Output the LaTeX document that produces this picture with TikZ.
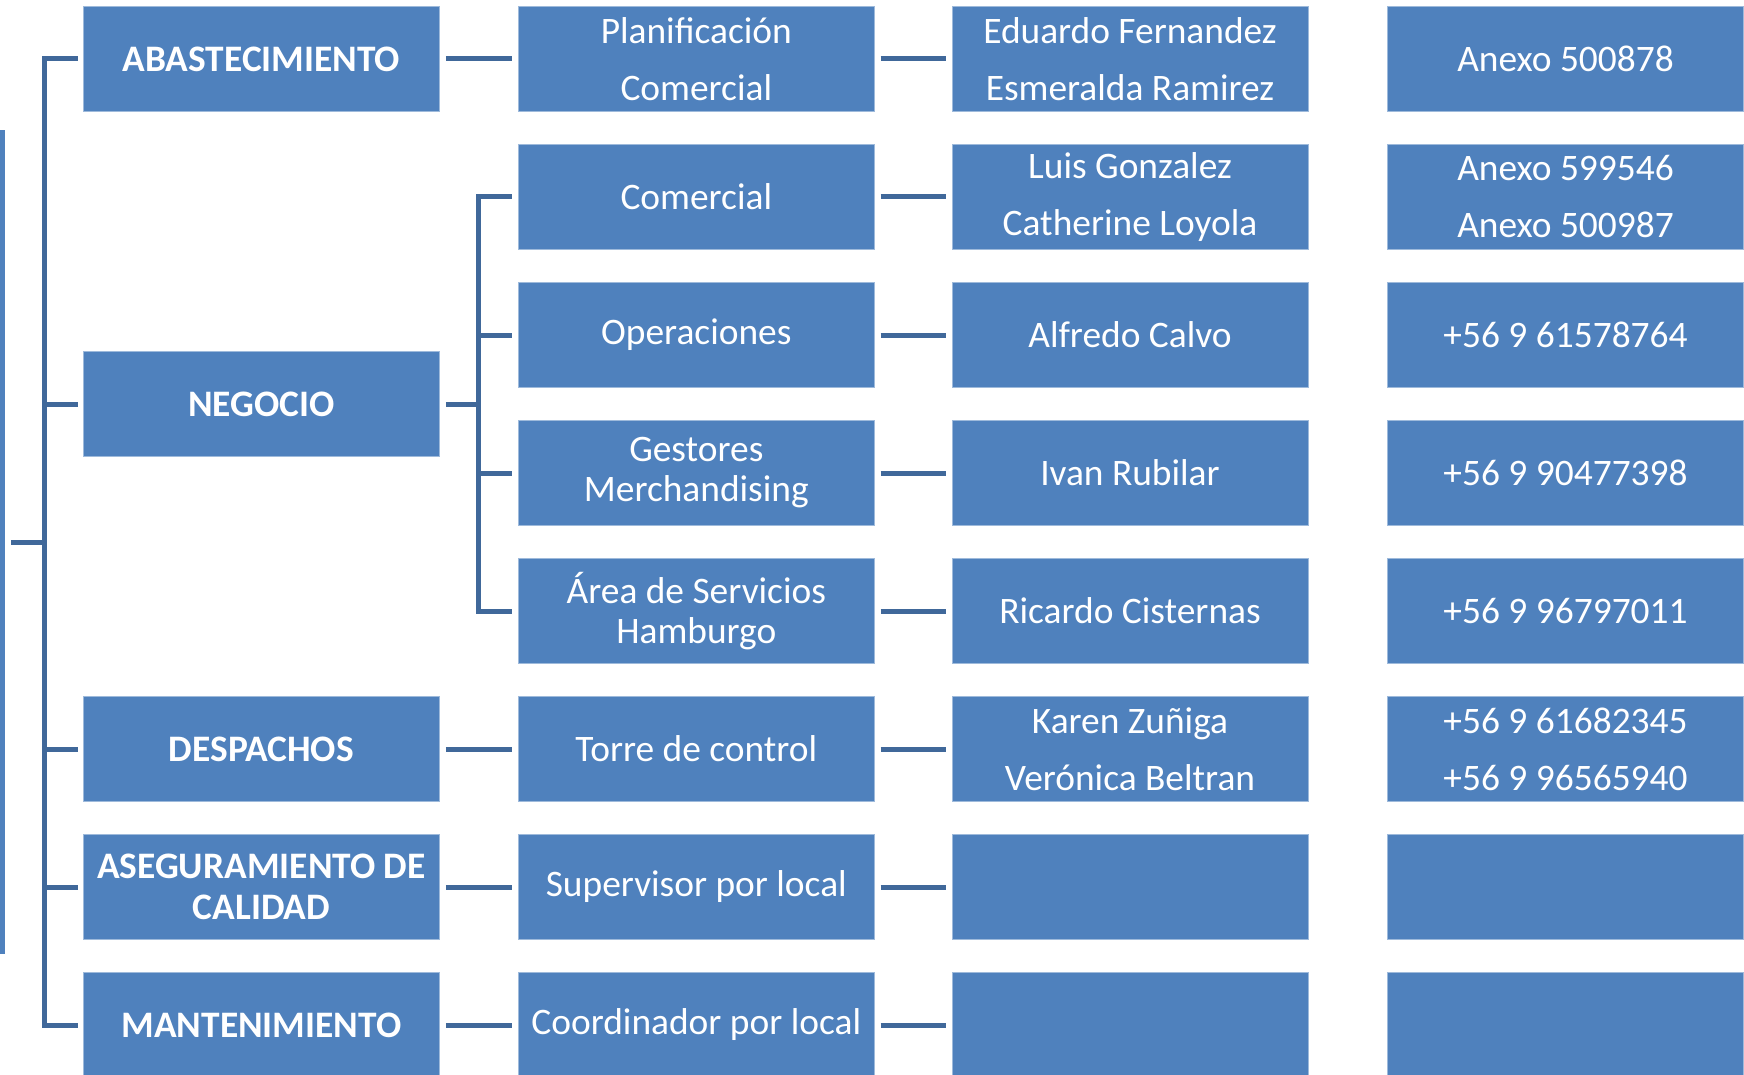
\documentclass[tikz,border=0pt]{standalone}
\usepackage{fontspec}
\setmainfont{Carlito}
\definecolor{boxblue}{RGB}{79,129,189}
\definecolor{linkblue}{RGB}{64,104,154}
\begin{document}
\begin{tikzpicture}[x=0.5pt,y=-0.5pt,
  orgbox/.style={rectangle, fill=boxblue, draw=boxblue!55!white, line width=0.4pt,
    minimum width=178pt, minimum height=52.25pt, inner sep=0pt, text=white,
    align=center, font=\fontsize{18.7}{20}\selectfont},
  orghead/.style={orgbox, font=\fontsize{18.7}{20.5}\selectfont\bfseries},
  widelines/.style={font=\fontsize{18.7}{28.5}\selectfont},
  conn/.style={draw=linkblue, line width=2.5pt},
]
\useasboundingbox (0,0) rectangle (1744,1075);

% root bar
\node[rectangle, fill=boxblue, minimum width=2.5pt, minimum height=412pt, inner sep=0pt] (rootbar) at (2.5,542) {};

% column 1
\node[orghead] (abast) at (261.4,59) {ABASTECIMIENTO};
\node[orghead] (neg) at (261.4,404) {NEGOCIO};
\node[orghead] (desp) at (261.4,749) {DESPACHOS};
\node[orghead] (aseg) at (261.4,887) {ASEGURAMIENTO DE\\CALIDAD};
\node[orghead] (mant) at (261.4,1025) {MANTENIMIENTO};

% column 2
\node[orgbox, widelines] (p1) at (696.3,59) {Planificación\\Comercial};
\node[orgbox] (p2) at (696.3,197) {Comercial};
\node[orgbox] (p3) at (696.3,335) {Operaciones};
\node[orgbox] (p4) at (696.3,473) {Gestores\\Merchandising};
\node[orgbox] (p5) at (696.3,611) {Área de Servicios\\Hamburgo};
\node[orgbox] (p6) at (696.3,749) {Torre de control};
\node[orgbox] (p7) at (696.3,887) {Supervisor por local};
\node[orgbox] (p8) at (696.3,1025) {Coordinador por local};

% column 3
\node[orgbox, widelines] (n1) at (1130,59) {Eduardo Fernandez\\Esmeralda Ramirez};
\node[orgbox, widelines] (n2) at (1130,197) {Luis Gonzalez\\Catherine Loyola};
\node[orgbox] (n3) at (1130,335) {Alfredo Calvo};
\node[orgbox] (n4) at (1130,473) {Ivan Rubilar};
\node[orgbox] (n5) at (1130,611) {Ricardo Cisternas};
\node[orgbox, widelines] (n6) at (1130,749) {Karen Zuñiga\\Verónica Beltran};
\node[orgbox] (n7) at (1130,887) {};
\node[orgbox] (n8) at (1130,1025) {};

% column 4
\node[orgbox] (t1) at (1565.5,59) {Anexo 500878};
\node[orgbox, widelines] (t2) at (1565.5,197) {Anexo 599546\\Anexo 500987};
\node[orgbox] (t3) at (1565.5,335) {+56 9 61578764};
\node[orgbox] (t4) at (1565.5,473) {+56 9 90477398};
\node[orgbox] (t5) at (1565.5,611) {+56 9 96797011};
\node[orgbox, widelines] (t6) at (1565.5,749) {+56 9 61682345\\+56 9 96565940};
\node[orgbox] (t7) at (1565.5,887) {};
\node[orgbox] (t8) at (1565.5,1025) {};

% main trunk
\coordinate (trunktop) at (44,59);
\coordinate (trunkbot) at (44,1025);
\draw[conn] ([xshift=-2.7pt]abast.west) -- (trunktop) -- (trunkbot) -- ([xshift=-2.7pt]mant.west);
\draw[conn] ([xshift=-2.7pt]neg.west) -- (trunktop |- neg.west);
\draw[conn] ([xshift=-2.7pt]desp.west) -- (trunktop |- desp.west);
\draw[conn] ([xshift=-2.7pt]aseg.west) -- (trunktop |- aseg.west);
\draw[conn] ([xshift=3pt]rootbar.east) -- (trunktop |- rootbar.east);

% column 1 -> column 2
\draw[conn] ([xshift=3pt]abast.east) -- ([xshift=-3pt]p1.west);
\draw[conn] ([xshift=3pt]desp.east) -- ([xshift=-3pt]p6.west);
\draw[conn] ([xshift=3pt]aseg.east) -- ([xshift=-3pt]p7.west);
\draw[conn] ([xshift=3pt]mant.east) -- ([xshift=-3pt]p8.west);

% negocio tree
\coordinate (negtrunk) at (478,404);
\draw[conn] ([xshift=3pt]neg.east) -- (negtrunk);
\draw[conn] ([xshift=-3pt]p2.west) -- (negtrunk |- p2.west) -- (negtrunk |- p5.west) -- ([xshift=-3pt]p5.west);
\draw[conn] ([xshift=-3pt]p3.west) -- (negtrunk |- p3.west);
\draw[conn] ([xshift=-3pt]p4.west) -- (negtrunk |- p4.west);

% column 2 -> column 3
\foreach \i in {1,...,8}{
  \draw[conn] ([xshift=3pt]p\i.east) -- ([xshift=-3pt]n\i.west);
}
\end{tikzpicture}
\end{document}
